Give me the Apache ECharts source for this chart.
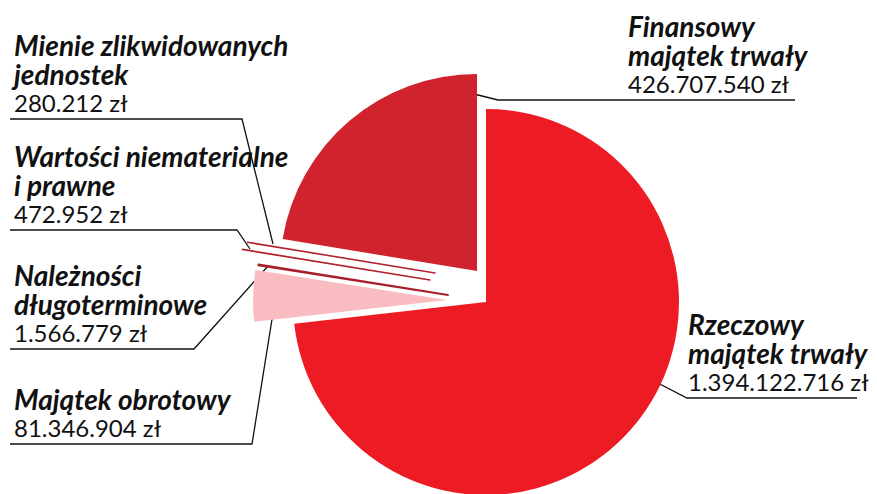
<!DOCTYPE html>
<html><head><meta charset="utf-8">
<script src="https://cdn.jsdelivr.net/npm/echarts@6/dist/echarts.min.js"></script>
<style>html,body{margin:0;padding:0;background:#fff}#c{width:877px;height:494px}</style>
</head><body><div id="c"></div>
<script>
// ---- data ----
const categories = ['Rzeczowy\nmajątek trwały', 'Majątek obrotowy', 'Należności\ndługoterminowe', 'Wartości niematerialne\ni prawne', 'Mienie zlikwidowanych\njednostek', 'Finansowy\nmajątek trwały'];
const values = [1394122716, 81346904, 1566779, 472952, 280212, 426707540];

// ---- styling / layout ----
const colors = ['#ED1C24', '#F9BCC0', '#A81F2A', '#B3232E', '#B3232E', '#D0232E'];
const borders = [0, 0, 1.8, 1.5, 1.5, 0];
const centers = [[486, 302], [447, 300], [448, 295], [430, 280], [435, 273], [477, 271]];
const radii = [193, 194, 192, 190, 190, 197];
// label: [textX, underlineY, linePoints]
const labelPos = [
  { x: 688, y: 398, pts: [[652, 380], [687, 398], [857, 398]] },
  { x: 14, y: 444, pts: [[273, 313], [252, 444], [10, 444]] },
  { x: 14, y: 349, pts: [[268, 266], [194, 349], [10, 349]] },
  { x: 14, y: 230, pts: [[250, 249], [237, 230], [10, 230]] },
  { x: 14, y: 119, pts: [[273, 244], [242, 119], [10, 119]] },
  { x: 628, y: 100, pts: [[474, 94], [498, 100], [795, 100]] }
];

const FONT = 'Lato';
function fmt(v) { return String(v).replace(/\B(?=(\d{3})+(?!\d))/g, '.') + ' zł'; }

const series = categories.map(function (_, k) {
  return {
    type: 'pie',
    silent: true,
    animation: false,
    startAngle: 90,
    clockwise: true,
    center: centers[k],
    radius: [0, radii[k]],
    avoidLabelOverlap: false,
    emphasis: { disabled: true },
    data: categories.map(function (name, i) {
      const own = i === k;
      return {
        name: name,
        value: values[i],
        itemStyle: own ? { color: colors[i], borderColor: colors[i], borderWidth: borders[i] } : { color: 'rgba(0,0,0,0)', borderWidth: 0 },
        label: { show: own },
        labelLine: { show: own }
      };
    }),
    label: {
      position: 'outside',
      formatter: function (p) {
        return p.name.split('\n').map(function (s) { return '{n|' + s + '}'; }).join('\n') + '\n{v|' + fmt(p.value) + '}';
      },
      rich: {
        n: { fontFamily: FONT, fontSize: 28, fontStyle: 'italic', fontWeight: 'bold', color: '#111', lineHeight: 29 },
        v: { fontFamily: FONT, fontSize: 24, fontWeight: 'normal', color: '#111', lineHeight: 28 }
      }
    },
    labelLine: { show: true, lineStyle: { color: '#111', width: 1.3 } },
    labelLayout: function (p) {
      const L = labelPos[k];
      return { x: L.x, y: L.y - 3, align: 'left', verticalAlign: 'bottom', labelLinePoints: L.pts };
    }
  };
});

const chart = echarts.init(document.getElementById('c'), null, { renderer: 'svg' });
chart.setOption({ backgroundColor: '#fff', series: series });
</script></body></html>
